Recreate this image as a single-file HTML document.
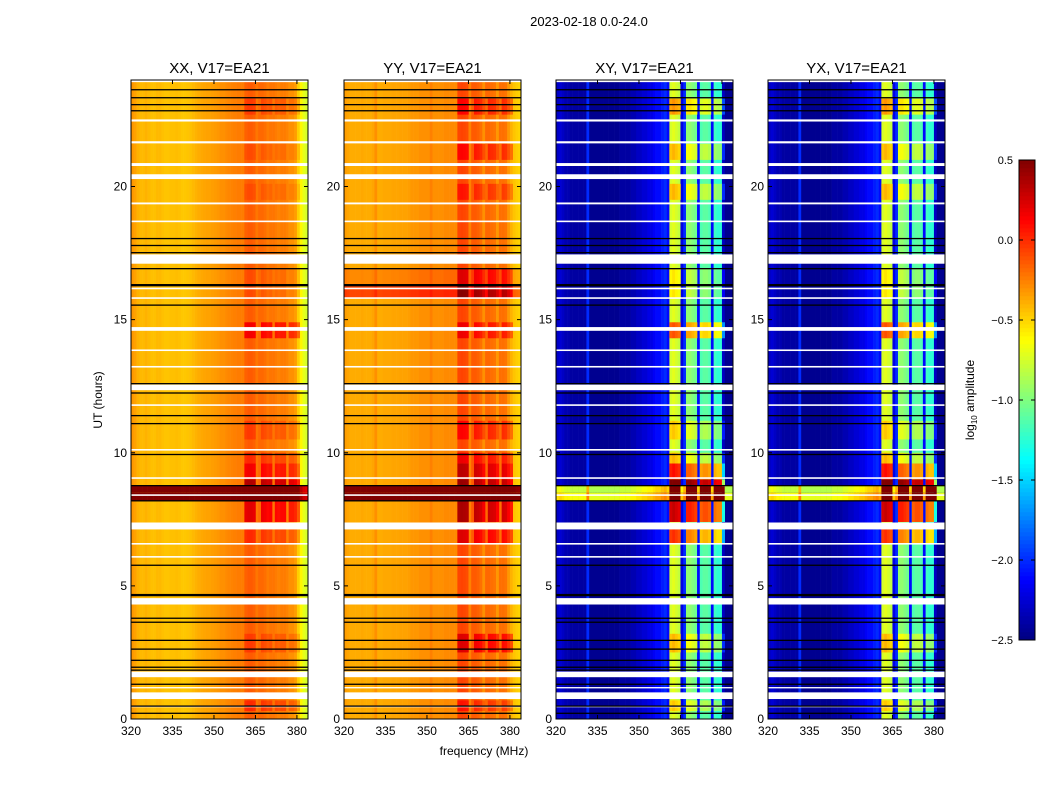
<!DOCTYPE html>
<html><head><meta charset="utf-8"><style>
body{margin:0;background:#fff;}
svg text{font-family:"Liberation Sans","DejaVu Sans",sans-serif;}
</style></head><body>
<svg id="chart" width="1050" height="800" viewBox="0 0 1050 800" xmlns="http://www.w3.org/2000/svg">
<rect width="1050" height="800" fill="#fff"/>
<text x="589" y="26" font-size="13" text-anchor="middle">2023-02-18 0.0-24.0</text>
<text x="484" y="755" font-size="12" text-anchor="middle">frequency (MHz)</text>
<text x="102" y="400" font-size="12" text-anchor="middle" transform="rotate(-90 102 400)">UT (hours)</text>
<g id="panels"></g>
<g id="cbar"></g>
</svg>
<script>
// ---- data ----
const panelTitles = ["XX, V17=EA21","YY, V17=EA21","XY, V17=EA21","YX, V17=EA21"];
const xTicks = [320,335,350,365,380];
const yTicks = [0,5,10,15,20];
const cbarTicks = [0.5,0.0,-0.5,-1.0,-1.5,-2.0,-2.5];
const cbarLabels = ["0.5","0.0","\u22120.5","\u22121.0","\u22121.5","\u22122.0","\u22122.5"];
// log10 amplitude per 1-MHz channel, 320..383
const profXX = [-0.32,-0.35,-0.4,-0.42,-0.42,-0.4,-0.42,-0.44,-0.44,-0.42,-0.42,-0.44,-0.45,-0.45,-0.44,-0.44,-0.43,-0.44,-0.46,-0.46,-0.45,-0.44,-0.42,-0.4,-0.38,-0.37,-0.36,-0.35,-0.35,-0.34,-0.33,-0.32,-0.3,-0.3,-0.28,-0.27,-0.26,-0.25,-0.24,-0.24,-0.24,-0.16,-0.14,-0.14,-0.16,-0.22,-0.18,-0.18,-0.2,-0.24,-0.22,-0.22,-0.24,-0.26,-0.24,-0.24,-0.26,-0.3,-0.3,-0.34,-0.48,-0.6,-0.7,-0.75];
const profYY = [-0.34,-0.36,-0.38,-0.38,-0.38,-0.38,-0.37,-0.38,-0.38,-0.38,-0.36,-0.3,-0.38,-0.38,-0.37,-0.37,-0.37,-0.36,-0.36,-0.36,-0.35,-0.35,-0.35,-0.34,-0.32,-0.32,-0.32,-0.3,-0.3,-0.3,-0.3,-0.25,-0.3,-0.3,-0.3,-0.3,-0.28,-0.28,-0.28,-0.28,-0.28,-0.08,-0.07,-0.08,-0.1,-0.25,-0.14,-0.14,-0.16,-0.2,-0.3,-0.18,-0.18,-0.2,-0.22,-0.32,-0.2,-0.2,-0.22,-0.32,-0.4,-0.45,-0.48,-0.5];
const profXY = [-2.3,-2.25,-2.3,-2.35,-2.35,-2.4,-2.4,-2.4,-2.4,-2.4,-2.4,-2.0,-2.45,-2.45,-2.45,-2.45,-2.45,-2.45,-2.45,-2.45,-2.45,-2.45,-2.45,-2.4,-2.4,-2.4,-2.4,-2.35,-2.35,-2.3,-2.3,-2.25,-2.25,-2.2,-2.2,-2.15,-2.1,-2.1,-2.05,-2.0,-2.1,-0.75,-0.7,-0.75,-0.8,-2.2,-2.0,-0.95,-0.95,-1.0,-1.05,-2.1,-1.15,-1.1,-1.1,-1.15,-2.1,-1.2,-1.25,-1.25,-2.3,-2.45,-2.45,-2.45];
const profYX = [-2.3,-2.25,-2.3,-2.35,-2.35,-2.4,-2.4,-2.4,-2.4,-2.4,-2.4,-2.0,-2.45,-2.45,-2.45,-2.45,-2.45,-2.45,-2.45,-2.45,-2.45,-2.45,-2.45,-2.4,-2.4,-2.4,-2.4,-2.35,-2.35,-2.3,-2.3,-2.25,-2.25,-2.2,-2.2,-2.15,-2.1,-2.1,-2.05,-2.0,-2.1,-0.75,-0.7,-0.75,-0.8,-2.2,-2.0,-0.95,-0.95,-1.0,-1.05,-2.1,-1.15,-1.1,-1.1,-1.15,-2.1,-1.2,-1.25,-1.25,-2.3,-2.45,-2.45,-2.45];
// RFI channel flags (1 = RFI-affected channel)
const rfiMask = [0,0,0,0,0,0,0,0,0,0,0,0,0,0,0,0,0,0,0,0,0,0,0,0,0,0,0,0,0,0,0,0,0,0,0,0,0,0,0,0,0,1,1,1,1,0,0,1,1,1,1,0,1,1,1,1,0,1,1,1,1,0,0,0];
// time-varying rows: start hour, end hour, offset all channels, extra offset on RFI channels (per panel)
const rowStart = [7.4,8.2,8.5,8.74,9.0,9.6,6.6,15.8,16.3,22.7,21.0,19.5,14.3,10.5,2.5,0.3];
const rowEnd   = [8.2,8.5,8.77,9.0,9.6,10.0,7.3,16.3,16.9,23.3,21.6,20.1,14.9,11.2,3.2,0.7];
const rowXX = [[0,0.35],[1.0,1.0],[0.95,0.95],[0,0.5],[0,0.3],[0,0.15],[0,0.15],[0,0.05],[0,0.05],[0,0.1],[0,0.05],[0,0.05],[0,0.3],[0,0.1],[0,0.1],[0,0.15]];
const rowYY = [[0,0.45],[1.0,1.0],[0.95,0.95],[0,0.5],[0,0.4],[0,0.25],[0,0.3],[0.3,0.25],[0.1,0.2],[0,0.2],[0,0.2],[0,0.15],[0,0.25],[0,0.2],[0,0.3],[0,0.15]];
const rowXY = [[0,1.0],[1.75,2.0],[1.6,2.0],[0,1.4],[0,0.8],[0,0.3],[0,0.7],[0,0.15],[0,0.15],[0,0.4],[0,0.3],[0,0.3],[0,0.6],[0,0.25],[0,0.3],[0,0.25]];
const rowYX = [[0,1.0],[1.75,2.0],[1.6,2.0],[0,1.4],[0,0.8],[0,0.3],[0,0.7],[0,0.15],[0,0.15],[0,0.4],[0,0.3],[0,0.3],[0,0.6],[0,0.25],[0,0.3],[0,0.25]];
// flagged (white) gaps and black lines, hours
const gapStart = [23.92,22.44,21.62,20.77,20.28,19.33,18.66,17.1,16.14,15.78,14.58,13.82,13.2,12.35,11.76,10.08,9.02,8.38,7.12,6.55,6.06,4.3,1.57,1.15,0.75,0.44];
const gapEnd   = [24.0,22.52,21.7,20.88,20.46,19.4,18.72,17.45,16.2,15.84,14.72,13.88,13.26,12.56,11.82,10.14,9.08,8.44,7.38,6.61,6.12,4.54,1.78,1.2,1.0,0.5];
const blackLines = [23.64,23.34,23.08,22.85,18.05,17.79,17.52,16.92,16.3,15.55,12.25,12.6,11.4,11.1,9.94,8.77,8.2,5.78,4.66,3.79,3.64,2.96,2.63,2.21,1.95,1.84,1.31,0.49,0.22];
const blackWidth = [1,1,1,1,1,1,1,1,2,1,1,1,1,1,1,1,1,1,2,1,1,1,1,1,1,1,1,1,1];

// ---- scales ----
const panelLeft = [131,344,556,768], PW = 177, PT = 80, PB = 719;
const fMin = 320, fMax = 384, hMax = 24, vMin = -2.5, vMax = 0.5;
const xs = (p,f) => panelLeft[p] + (f - fMin) / (fMax - fMin) * PW;
const ys = h => PB - h / hMax * (PB - PT);
function jet(v){
  let t = (v - vMin) / (vMax - vMin); t = Math.max(0, Math.min(1, t));
  const c = x => Math.round(255 * Math.max(0, Math.min(1, x)));
  return `rgb(${c(1.5 - Math.abs(4*t - 3))},${c(1.5 - Math.abs(4*t - 2))},${c(1.5 - Math.abs(4*t - 1))})`;
}
const NS = "http://www.w3.org/2000/svg";
function mk(tag, attrs, parent){ const e = document.createElementNS(NS, tag); for (const k in attrs) e.setAttribute(k, attrs[k]); parent.appendChild(e); return e; }

const profiles = [profXX, profYY, profXY, profYX];
const rowOffs = [rowXX, rowYY, rowXY, rowYX];
const root = document.getElementById('panels');
for (let p = 0; p < 4; p++){
  const g = mk('g', {}, root);
  
  
  const L = panelLeft[p];
  const prof = profiles[p];
  const hm = mk('g', {}, g);
  
  
  for (let i = 0; i < prof.length; i++){
    const x0 = xs(p, fMin + i), x1 = xs(p, fMin + i + 1);
    const r = mk('rect', {x:x0, y:PT, width:x1 - x0 + 0.3, height:PB - PT, fill:jet(prof[i])}, hm);
    
    
  }
  for (let k = 0; k < rowStart.length; k++){
    const off = rowOffs[p][k];
    const yt = ys(rowEnd[k]), yb = ys(rowStart[k]);
    for (let i = 0; i < prof.length; i++){
      const d = off[0] + (rfiMask[i] ? off[1] : 0);
      if (d === 0) continue;
      const x0 = xs(p, fMin + i), x1 = xs(p, fMin + i + 1);
      const r = mk('rect', {x:x0, y:yt, width:x1 - x0 + 0.3, height:yb - yt, fill:jet(prof[i] + d)}, hm);
      
      
    }
  }
  for (let k = 0; k < gapStart.length; k++){
    const yt = ys(gapEnd[k]), yb = ys(gapStart[k]);
    const r = mk('rect', {x:L, y:yt, width:PW, height:Math.max(1.2, yb - yt), fill:'#fff'}, hm);
    
    
  }
  for (let k = 0; k < blackLines.length; k++){
    const r = mk('rect', {x:L, y:ys(blackLines[k]) - blackWidth[k]/2, width:PW, height:blackWidth[k] + 0.3, fill:'#000'}, hm);
    
    
  }
  const fr = mk('rect', {x:L, y:PT, width:PW, height:PB - PT, fill:'none', stroke:'#000', 'stroke-width':1}, g);
  
  
  const tt = mk('text', {x:L + PW/2, y:PT - 7, 'font-size':15, 'text-anchor':'middle'}, g);
  tt.textContent = panelTitles[p];
  
  
  xTicks.forEach(f => {
    const x = xs(p, f);
    mk('line', {x1:x, x2:x, y1:PB, y2:PB - 4, stroke:'#000'}, g);
    mk('line', {x1:x, x2:x, y1:PT, y2:PT + 4, stroke:'#000'}, g);
    const t = mk('text', {x:x, y:PB + 16, 'font-size':12, 'text-anchor':'middle'}, g);
    t.textContent = f;
    
    
  });
  yTicks.forEach(h => {
    const y = ys(h);
    mk('line', {x1:L, x2:L + 4, y1:y, y2:y, stroke:'#000'}, g);
    mk('line', {x1:L + PW, x2:L + PW - 4, y1:y, y2:y, stroke:'#000'}, g);
    const t = mk('text', {x:L - 4, y:y + 4, 'font-size':12, 'text-anchor':'end'}, g);
    t.textContent = h;
    
    
  });
}
// ---- colorbar ----
const cb = document.getElementById('cbar');


const CX = 1019, CW = 16, CT = 160, CB = 640;
const cy = v => CB - (v - vMin) / (vMax - vMin) * (CB - CT);
for (let i = 0; i < 120; i++){
  const v0 = vMin + i * (vMax - vMin) / 120, v1 = vMin + (i + 1) * (vMax - vMin) / 120;
  mk('rect', {x:CX, y:cy(v1), width:CW, height:cy(v0) - cy(v1) + 0.3, fill:jet((v0 + v1) / 2)}, cb);
}
mk('rect', {x:CX, y:CT, width:CW, height:CB - CT, fill:'none', stroke:'#000'}, cb);
cbarTicks.forEach((v, i) => {
  const y = cy(v);
  mk('line', {x1:CX, x2:CX + 4, y1:y, y2:y, stroke:'#000'}, cb);
  mk('line', {x1:CX + CW, x2:CX + CW - 4, y1:y, y2:y, stroke:'#000'}, cb);
  const t = mk('text', {x:1013, y:y + 4, 'font-size':11, 'text-anchor':'end'}, cb);
  t.textContent = cbarLabels[i];
  
  
});
const cl = mk('text', {x:974, y:400, 'font-size':12, 'text-anchor':'middle', transform:'rotate(-90 974 400)'}, cb);
cl.innerHTML = 'log<tspan font-size="8" dy="3">10</tspan><tspan dy="-3"> amplitude</tspan>';


</script>
</body></html>
